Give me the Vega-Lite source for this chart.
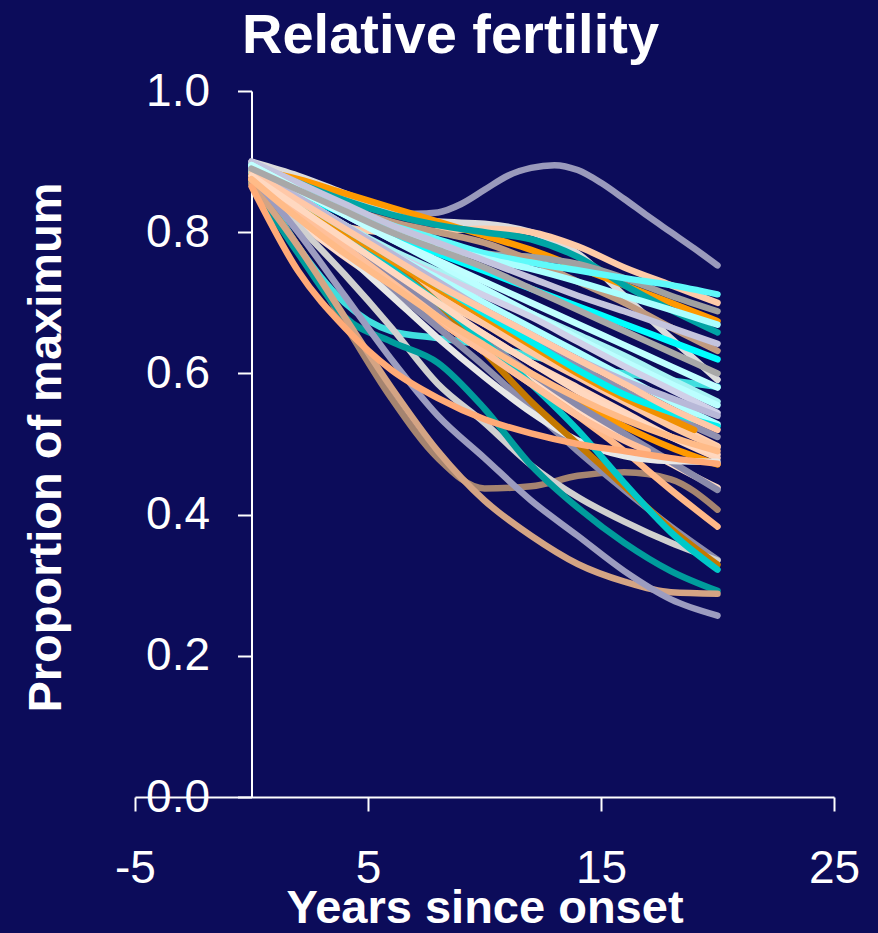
{
"$schema": "https://vega.github.io/schema/vega-lite/v6.json",
"width": 699, "height": 706,
"autosize": {"type": "none"},
"padding": {"left": 135, "top": 91, "right": 44, "bottom": 136},
"background": "#0c0c5a",
"config": {"view": {"stroke": null}, "font": "Liberation Sans"},
"title": {"text": "Relative fertility", "fontSize": 56, "fontWeight": "bold", "color": "white", "font": "Liberation Sans", "anchor": "middle", "frame": "group", "dx": -34, "dy": 7, "offset": 10},
"data": {"values": [
{"id":"A","t":0,"v":0.895},{"id":"A","t":2,"v":0.872},{"id":"A","t":4,"v":0.85},{"id":"A","t":6,"v":0.832},{"id":"A","t":7,"v":0.826},{"id":"A","t":8,"v":0.828},{"id":"A","t":9,"v":0.84},{"id":"A","t":10,"v":0.86},{"id":"A","t":11,"v":0.88},{"id":"A","t":12,"v":0.891},{"id":"A","t":13,"v":0.895},{"id":"A","t":14,"v":0.888},{"id":"A","t":15,"v":0.87},{"id":"A","t":16,"v":0.847},{"id":"A","t":17,"v":0.823},{"id":"A","t":18,"v":0.8},{"id":"A","t":19,"v":0.777},{"id":"A","t":20,"v":0.753},
{"id":"B","t":0,"v":0.9},{"id":"B","t":2,"v":0.88},{"id":"B","t":4,"v":0.855},{"id":"B","t":6,"v":0.83},{"id":"B","t":8,"v":0.815},{"id":"B","t":10,"v":0.812},{"id":"B","t":12,"v":0.8},{"id":"B","t":14,"v":0.77},{"id":"B","t":16,"v":0.71},{"id":"B","t":18,"v":0.65},{"id":"B","t":20,"v":0.591},
{"id":"C","t":0,"v":0.88},{"id":"C","t":2,"v":0.84},{"id":"C","t":4,"v":0.808},{"id":"C","t":6,"v":0.8},{"id":"C","t":8,"v":0.802},{"id":"C","t":10,"v":0.805},{"id":"C","t":12,"v":0.8},{"id":"C","t":14,"v":0.78},{"id":"C","t":16,"v":0.75},{"id":"C","t":18,"v":0.725},{"id":"C","t":20,"v":0.7},
{"id":"D","t":0,"v":0.89},{"id":"D","t":2,"v":0.875},{"id":"D","t":4,"v":0.855},{"id":"D","t":6,"v":0.835},{"id":"D","t":8,"v":0.815},{"id":"D","t":10,"v":0.795},{"id":"D","t":12,"v":0.775},{"id":"D","t":14,"v":0.75},{"id":"D","t":16,"v":0.725},{"id":"D","t":18,"v":0.7},{"id":"D","t":20,"v":0.674},
{"id":"E","t":0,"v":0.895},{"id":"E","t":2,"v":0.87},{"id":"E","t":4,"v":0.845},{"id":"E","t":6,"v":0.825},{"id":"E","t":8,"v":0.81},{"id":"E","t":10,"v":0.8},{"id":"E","t":12,"v":0.79},{"id":"E","t":14,"v":0.765},{"id":"E","t":16,"v":0.725},{"id":"E","t":18,"v":0.69},{"id":"E","t":20,"v":0.658},
{"id":"F","t":0,"v":0.895},{"id":"F","t":2,"v":0.865},{"id":"F","t":4,"v":0.835},{"id":"F","t":6,"v":0.805},{"id":"F","t":8,"v":0.785},{"id":"F","t":10,"v":0.77},{"id":"F","t":12,"v":0.765},{"id":"F","t":14,"v":0.755},{"id":"F","t":16,"v":0.735},{"id":"F","t":18,"v":0.71},{"id":"F","t":20,"v":0.688},
{"id":"G","t":0,"v":0.885},{"id":"G","t":2,"v":0.86},{"id":"G","t":4,"v":0.835},{"id":"G","t":6,"v":0.815},{"id":"G","t":8,"v":0.8},{"id":"G","t":10,"v":0.785},{"id":"G","t":12,"v":0.76},{"id":"G","t":14,"v":0.73},{"id":"G","t":16,"v":0.7},{"id":"G","t":18,"v":0.665},{"id":"G","t":20,"v":0.632},
{"id":"H","t":0,"v":0.895},{"id":"H","t":2,"v":0.865},{"id":"H","t":4,"v":0.835},{"id":"H","t":6,"v":0.81},{"id":"H","t":8,"v":0.79},{"id":"H","t":10,"v":0.77},{"id":"H","t":12,"v":0.757},{"id":"H","t":14,"v":0.746},{"id":"H","t":16,"v":0.735},{"id":"H","t":18,"v":0.725},{"id":"H","t":20,"v":0.712},
{"id":"I","t":0,"v":0.89},{"id":"I","t":2,"v":0.86},{"id":"I","t":4,"v":0.83},{"id":"I","t":6,"v":0.8},{"id":"I","t":8,"v":0.78},{"id":"I","t":10,"v":0.763},{"id":"I","t":12,"v":0.748},{"id":"I","t":14,"v":0.73},{"id":"I","t":16,"v":0.71},{"id":"I","t":18,"v":0.69},{"id":"I","t":20,"v":0.669},
{"id":"J","t":0,"v":0.9},{"id":"J","t":2,"v":0.87},{"id":"J","t":4,"v":0.84},{"id":"J","t":6,"v":0.81},{"id":"J","t":8,"v":0.785},{"id":"J","t":10,"v":0.76},{"id":"J","t":12,"v":0.735},{"id":"J","t":14,"v":0.71},{"id":"J","t":16,"v":0.688},{"id":"J","t":18,"v":0.665},{"id":"J","t":20,"v":0.642},
{"id":"K","t":0,"v":0.885},{"id":"K","t":2,"v":0.855},{"id":"K","t":4,"v":0.825},{"id":"K","t":6,"v":0.795},{"id":"K","t":8,"v":0.77},{"id":"K","t":10,"v":0.745},{"id":"K","t":12,"v":0.72},{"id":"K","t":14,"v":0.695},{"id":"K","t":16,"v":0.67},{"id":"K","t":18,"v":0.645},{"id":"K","t":20,"v":0.62},
{"id":"L","t":0,"v":0.89},{"id":"L","t":2,"v":0.78},{"id":"L","t":4,"v":0.7},{"id":"L","t":6,"v":0.66},{"id":"L","t":8,"v":0.65},{"id":"L","t":10,"v":0.64},{"id":"L","t":12,"v":0.625},{"id":"L","t":14,"v":0.61},{"id":"L","t":16,"v":0.6},{"id":"L","t":18,"v":0.59},{"id":"L","t":20,"v":0.581},
{"id":"M","t":0,"v":0.89},{"id":"M","t":2,"v":0.85},{"id":"M","t":4,"v":0.81},{"id":"M","t":6,"v":0.775},{"id":"M","t":8,"v":0.745},{"id":"M","t":10,"v":0.715},{"id":"M","t":12,"v":0.685},{"id":"M","t":14,"v":0.655},{"id":"M","t":16,"v":0.625},{"id":"M","t":18,"v":0.592},{"id":"M","t":20,"v":0.56},
{"id":"N","t":0,"v":0.895},{"id":"N","t":2,"v":0.86},{"id":"N","t":4,"v":0.825},{"id":"N","t":6,"v":0.79},{"id":"N","t":8,"v":0.755},{"id":"N","t":10,"v":0.72},{"id":"N","t":12,"v":0.685},{"id":"N","t":14,"v":0.65},{"id":"N","t":16,"v":0.617},{"id":"N","t":18,"v":0.585},{"id":"N","t":20,"v":0.555},
{"id":"O","t":0,"v":0.885},{"id":"O","t":2,"v":0.845},{"id":"O","t":4,"v":0.805},{"id":"O","t":6,"v":0.77},{"id":"O","t":8,"v":0.74},{"id":"O","t":10,"v":0.71},{"id":"O","t":12,"v":0.68},{"id":"O","t":14,"v":0.645},{"id":"O","t":16,"v":0.61},{"id":"O","t":18,"v":0.577},{"id":"O","t":20,"v":0.544},
{"id":"P","t":0,"v":0.89},{"id":"P","t":2,"v":0.85},{"id":"P","t":4,"v":0.81},{"id":"P","t":6,"v":0.77},{"id":"P","t":8,"v":0.735},{"id":"P","t":10,"v":0.7},{"id":"P","t":12,"v":0.665},{"id":"P","t":14,"v":0.63},{"id":"P","t":16,"v":0.595},{"id":"P","t":18,"v":0.56},{"id":"P","t":20,"v":0.528},
{"id":"Q","t":0,"v":0.88},{"id":"Q","t":2,"v":0.84},{"id":"Q","t":4,"v":0.8},{"id":"Q","t":6,"v":0.76},{"id":"Q","t":8,"v":0.72},{"id":"Q","t":10,"v":0.685},{"id":"Q","t":12,"v":0.65},{"id":"Q","t":14,"v":0.61},{"id":"Q","t":16,"v":0.575},{"id":"Q","t":18,"v":0.54},{"id":"Q","t":20,"v":0.51},
{"id":"R","t":0,"v":0.875},{"id":"R","t":2,"v":0.83},{"id":"R","t":4,"v":0.785},{"id":"R","t":6,"v":0.745},{"id":"R","t":8,"v":0.705},{"id":"R","t":10,"v":0.67},{"id":"R","t":12,"v":0.635},{"id":"R","t":14,"v":0.6},{"id":"R","t":16,"v":0.565},{"id":"R","t":18,"v":0.53},{"id":"R","t":20,"v":0.497},
{"id":"S","t":0,"v":0.88},{"id":"S","t":2,"v":0.835},{"id":"S","t":4,"v":0.79},{"id":"S","t":6,"v":0.75},{"id":"S","t":8,"v":0.71},{"id":"S","t":10,"v":0.67},{"id":"S","t":12,"v":0.63},{"id":"S","t":14,"v":0.595},{"id":"S","t":16,"v":0.56},{"id":"S","t":18,"v":0.525},{"id":"S","t":20,"v":0.495},
{"id":"T","t":0,"v":0.87},{"id":"T","t":2,"v":0.82},{"id":"T","t":4,"v":0.775},{"id":"T","t":6,"v":0.735},{"id":"T","t":8,"v":0.695},{"id":"T","t":10,"v":0.655},{"id":"T","t":12,"v":0.615},{"id":"T","t":14,"v":0.58},{"id":"T","t":16,"v":0.545},{"id":"T","t":18,"v":0.51},{"id":"T","t":20,"v":0.48},
{"id":"U","t":0,"v":0.875},{"id":"U","t":2,"v":0.82},{"id":"U","t":4,"v":0.77},{"id":"U","t":6,"v":0.72},{"id":"U","t":8,"v":0.675},{"id":"U","t":10,"v":0.635},{"id":"U","t":12,"v":0.595},{"id":"U","t":14,"v":0.56},{"id":"U","t":16,"v":0.525},{"id":"U","t":18,"v":0.495},{"id":"U","t":20,"v":0.471},
{"id":"V","t":0,"v":0.87},{"id":"V","t":2,"v":0.815},{"id":"V","t":4,"v":0.765},{"id":"V","t":6,"v":0.72},{"id":"V","t":8,"v":0.675},{"id":"V","t":10,"v":0.63},{"id":"V","t":12,"v":0.59},{"id":"V","t":14,"v":0.55},{"id":"V","t":16,"v":0.51},{"id":"V","t":18,"v":0.472},{"id":"V","t":20,"v":0.438},
{"id":"W","t":0,"v":0.88},{"id":"W","t":2,"v":0.83},{"id":"W","t":4,"v":0.78},{"id":"W","t":6,"v":0.735},{"id":"W","t":8,"v":0.69},{"id":"W","t":10,"v":0.645},{"id":"W","t":12,"v":0.6},{"id":"W","t":14,"v":0.555},{"id":"W","t":16,"v":0.515},{"id":"W","t":18,"v":0.475},{"id":"W","t":20,"v":0.435},
{"id":"X","t":0,"v":0.87},{"id":"X","t":2,"v":0.78},{"id":"X","t":4,"v":0.67},{"id":"X","t":6,"v":0.565},{"id":"X","t":8,"v":0.48},{"id":"X","t":10,"v":0.437},{"id":"X","t":12,"v":0.44},{"id":"X","t":14,"v":0.455},{"id":"X","t":16,"v":0.46},{"id":"X","t":18,"v":0.45},{"id":"X","t":20,"v":0.407},
{"id":"Y","t":0,"v":0.87},{"id":"Y","t":2,"v":0.82},{"id":"Y","t":4,"v":0.77},{"id":"Y","t":6,"v":0.72},{"id":"Y","t":8,"v":0.675},{"id":"Y","t":10,"v":0.63},{"id":"Y","t":12,"v":0.585},{"id":"Y","t":14,"v":0.54},{"id":"Y","t":16,"v":0.49},{"id":"Y","t":18,"v":0.435},{"id":"Y","t":20,"v":0.383},
{"id":"Z","t":0,"v":0.88},{"id":"Z","t":2,"v":0.83},{"id":"Z","t":4,"v":0.775},{"id":"Z","t":6,"v":0.72},{"id":"Z","t":8,"v":0.665},{"id":"Z","t":10,"v":0.61},{"id":"Z","t":12,"v":0.55},{"id":"Z","t":14,"v":0.49},{"id":"Z","t":16,"v":0.435},{"id":"Z","t":18,"v":0.383},{"id":"Z","t":20,"v":0.336},
{"id":"AA","t":0,"v":0.885},{"id":"AA","t":2,"v":0.81},{"id":"AA","t":4,"v":0.74},{"id":"AA","t":6,"v":0.665},{"id":"AA","t":8,"v":0.585},{"id":"AA","t":10,"v":0.53},{"id":"AA","t":12,"v":0.47},{"id":"AA","t":14,"v":0.425},{"id":"AA","t":16,"v":0.39},{"id":"AA","t":18,"v":0.36},{"id":"AA","t":20,"v":0.335},
{"id":"AB","t":0,"v":0.89},{"id":"AB","t":2,"v":0.83},{"id":"AB","t":4,"v":0.77},{"id":"AB","t":6,"v":0.71},{"id":"AB","t":8,"v":0.65},{"id":"AB","t":10,"v":0.595},{"id":"AB","t":12,"v":0.545},{"id":"AB","t":14,"v":0.505},{"id":"AB","t":16,"v":0.483},{"id":"AB","t":18,"v":0.476},{"id":"AB","t":20,"v":0.475},
{"id":"AC","t":0,"v":0.88},{"id":"AC","t":2,"v":0.84},{"id":"AC","t":4,"v":0.8},{"id":"AC","t":6,"v":0.755},{"id":"AC","t":8,"v":0.7},{"id":"AC","t":10,"v":0.63},{"id":"AC","t":12,"v":0.56},{"id":"AC","t":14,"v":0.5},{"id":"AC","t":16,"v":0.44},{"id":"AC","t":18,"v":0.38},{"id":"AC","t":20,"v":0.329},
{"id":"AD","t":0,"v":0.885},{"id":"AD","t":2,"v":0.845},{"id":"AD","t":4,"v":0.8},{"id":"AD","t":6,"v":0.75},{"id":"AD","t":8,"v":0.7},{"id":"AD","t":10,"v":0.645},{"id":"AD","t":12,"v":0.585},{"id":"AD","t":14,"v":0.52},{"id":"AD","t":16,"v":0.445},{"id":"AD","t":18,"v":0.375},{"id":"AD","t":20,"v":0.322},
{"id":"AE","t":0,"v":0.87},{"id":"AE","t":2,"v":0.77},{"id":"AE","t":4,"v":0.68},{"id":"AE","t":6,"v":0.645},{"id":"AE","t":8,"v":0.615},{"id":"AE","t":10,"v":0.55},{"id":"AE","t":12,"v":0.47},{"id":"AE","t":14,"v":0.41},{"id":"AE","t":16,"v":0.36},{"id":"AE","t":18,"v":0.32},{"id":"AE","t":20,"v":0.292},
{"id":"AF","t":0,"v":0.87},{"id":"AF","t":2,"v":0.78},{"id":"AF","t":4,"v":0.68},{"id":"AF","t":6,"v":0.58},{"id":"AF","t":8,"v":0.49},{"id":"AF","t":10,"v":0.42},{"id":"AF","t":12,"v":0.37},{"id":"AF","t":14,"v":0.33},{"id":"AF","t":16,"v":0.305},{"id":"AF","t":18,"v":0.29},{"id":"AF","t":20,"v":0.288},
{"id":"AG","t":0,"v":0.88},{"id":"AG","t":2,"v":0.8},{"id":"AG","t":4,"v":0.71},{"id":"AG","t":6,"v":0.62},{"id":"AG","t":8,"v":0.54},{"id":"AG","t":10,"v":0.48},{"id":"AG","t":12,"v":0.42},{"id":"AG","t":14,"v":0.37},{"id":"AG","t":16,"v":0.32},{"id":"AG","t":18,"v":0.28},{"id":"AG","t":20,"v":0.257},
{"id":"AH","t":0,"v":0.88},{"id":"AH","t":2,"v":0.84},{"id":"AH","t":4,"v":0.8},{"id":"AH","t":6,"v":0.76},{"id":"AH","t":8,"v":0.72},{"id":"AH","t":10,"v":0.68},{"id":"AH","t":12,"v":0.64},{"id":"AH","t":14,"v":0.6},{"id":"AH","t":16,"v":0.565},{"id":"AH","t":18,"v":0.535},{"id":"AH","t":19,"v":0.52},
{"id":"AI","t":0,"v":0.875},{"id":"AI","t":2,"v":0.83},{"id":"AI","t":4,"v":0.78},{"id":"AI","t":6,"v":0.73},{"id":"AI","t":8,"v":0.68},{"id":"AI","t":10,"v":0.63},{"id":"AI","t":12,"v":0.585},{"id":"AI","t":14,"v":0.54},{"id":"AI","t":16,"v":0.505},{"id":"AI","t":17,"v":0.49},
{"id":"AJ","t":0,"v":0.865},{"id":"AJ","t":2,"v":0.745},{"id":"AJ","t":4,"v":0.665},{"id":"AJ","t":6,"v":0.605},{"id":"AJ","t":8,"v":0.565},{"id":"AJ","t":10,"v":0.535},{"id":"AJ","t":12,"v":0.515},{"id":"AJ","t":14,"v":0.5},{"id":"AJ","t":16,"v":0.49},{"id":"AJ","t":18,"v":0.48},{"id":"AJ","t":20,"v":0.472},
{"id":"AK","t":0,"v":0.885},{"id":"AK","t":2,"v":0.845},{"id":"AK","t":4,"v":0.805},{"id":"AK","t":6,"v":0.765},{"id":"AK","t":8,"v":0.725},{"id":"AK","t":10,"v":0.685},{"id":"AK","t":12,"v":0.645},{"id":"AK","t":14,"v":0.605},{"id":"AK","t":16,"v":0.57},{"id":"AK","t":18,"v":0.545},{"id":"AK","t":20,"v":0.525},
{"id":"AL","t":0,"v":0.89},{"id":"AL","t":2,"v":0.85},{"id":"AL","t":4,"v":0.81},{"id":"AL","t":6,"v":0.77},{"id":"AL","t":8,"v":0.73},{"id":"AL","t":10,"v":0.69},{"id":"AL","t":12,"v":0.655},{"id":"AL","t":14,"v":0.62},{"id":"AL","t":16,"v":0.59},{"id":"AL","t":18,"v":0.565},{"id":"AL","t":20,"v":0.54},
{"id":"AM","t":0,"v":0.885},{"id":"AM","t":2,"v":0.845},{"id":"AM","t":4,"v":0.805},{"id":"AM","t":6,"v":0.765},{"id":"AM","t":8,"v":0.725},{"id":"AM","t":10,"v":0.69},{"id":"AM","t":12,"v":0.655},{"id":"AM","t":14,"v":0.62},{"id":"AM","t":16,"v":0.585},{"id":"AM","t":18,"v":0.55},{"id":"AM","t":20,"v":0.52},
{"id":"AN","t":0,"v":0.88},{"id":"AN","t":2,"v":0.835},{"id":"AN","t":4,"v":0.79},{"id":"AN","t":6,"v":0.745},{"id":"AN","t":8,"v":0.7},{"id":"AN","t":10,"v":0.655},{"id":"AN","t":12,"v":0.615},{"id":"AN","t":14,"v":0.575},{"id":"AN","t":16,"v":0.54},{"id":"AN","t":18,"v":0.51},{"id":"AN","t":20,"v":0.485},
{"id":"AO","t":0,"v":0.895},{"id":"AO","t":2,"v":0.86},{"id":"AO","t":4,"v":0.825},{"id":"AO","t":6,"v":0.79},{"id":"AO","t":8,"v":0.76},{"id":"AO","t":10,"v":0.73},{"id":"AO","t":12,"v":0.7},{"id":"AO","t":14,"v":0.67},{"id":"AO","t":16,"v":0.64},{"id":"AO","t":18,"v":0.61},{"id":"AO","t":20,"v":0.58},
{"id":"AP","t":0,"v":0.89},{"id":"AP","t":2,"v":0.86},{"id":"AP","t":4,"v":0.83},{"id":"AP","t":6,"v":0.8},{"id":"AP","t":8,"v":0.775},{"id":"AP","t":10,"v":0.75},{"id":"AP","t":12,"v":0.72},{"id":"AP","t":14,"v":0.69},{"id":"AP","t":16,"v":0.66},{"id":"AP","t":18,"v":0.63},{"id":"AP","t":20,"v":0.6},
{"id":"AQ","t":0,"v":0.875},{"id":"AQ","t":2,"v":0.82},{"id":"AQ","t":4,"v":0.77},{"id":"AQ","t":6,"v":0.725},{"id":"AQ","t":8,"v":0.68},{"id":"AQ","t":10,"v":0.64},{"id":"AQ","t":12,"v":0.6},{"id":"AQ","t":14,"v":0.565},{"id":"AQ","t":16,"v":0.535},{"id":"AQ","t":18,"v":0.51},{"id":"AQ","t":20,"v":0.49}
]},
"mark": {"type": "line", "interpolate": "monotone", "strokeWidth": 6.5, "strokeCap": "round", "strokeJoin": "round"},
"encoding": {
"x": {"field": "t", "type": "quantitative", "scale": {"domain": [-5, 25], "nice": false, "zero": false},
 "axis": {"values": [-5, 5, 15, 25], "labelExpr": "replace(datum.label, '\u2212', '-')", "grid": false, "domainColor": "white", "domainWidth": 2, "tickColor": "white", "tickWidth": 2, "tickSize": 14, "labelColor": "white", "labelFont": "Liberation Sans", "labelFontSize": 46, "labelPadding": 35, "labelFlush": false, "labelOverlap": false, "labelBound": false,
  "title": "Years since onset", "titleColor": "white", "titleFont": "Liberation Sans", "titleFontSize": 47, "titleFontWeight": "bold", "titleBaseline": "alphabetic", "titleY": 125}},
"y": {"field": "v", "type": "quantitative", "scale": {"domain": [0, 1], "nice": false},
 "axis": {"values": [0, 0.2, 0.4, 0.6, 0.8, 1.0], "format": ".1f", "offset": -116.5, "grid": false, "domainColor": "white", "domainWidth": 2, "tickColor": "white", "tickWidth": 2, "tickSize": 14, "labelColor": "white", "labelFont": "Liberation Sans", "labelFontSize": 46, "labelPadding": 28, "labelFlush": false, "labelOverlap": false, "labelBound": false,
  "title": "Proportion of maximum", "titleColor": "white", "titleFont": "Liberation Sans", "titleFontSize": 47, "titleFontWeight": "bold", "titleBaseline": "alphabetic", "titleAlign": "center", "titleAngle": 270, "titleX": -191.5, "titleY": 356}},
"color": {"field": "id", "type": "nominal", "legend": null,
 "scale": {"domain": ["A","B","C","D","E","F","G","H","I","J","K","L","M","N","O","P","Q","R","S","T","U","V","W","X","Y","Z","AA","AB","AC","AD","AE","AF","AG","AH","AI","AJ","AK","AL","AM","AN","AO","AP","AQ"],
  "range": ["#9a9abc","#dcdcdc","#ffcba8","#ff9900","#00a5a5","#a0a0a0","#c09a80","#5ffafa","#aaffff","#c4c4de","#00ffff","#40dede","#a8f4f4","#bbffff","#d0d0e8","#b0ffff","#9090b0","#ffcfae","#ffc8a0","#ffd5bb","#ff9900","#ffdcc8","#8a8aaa","#a58470","#ffb888","#8c8cac","#d0d0d0","#e8e8e8","#c47800","#00c8c8","#009c9c","#d4a484","#9c9cc0","#f09000","#ffc09a","#ffaa77","#00f0f0","#b8b8d8","#ffc8a8","#ffd8c0","#c0ffff","#a8a8a8","#ffbb88"]}}
}
}
